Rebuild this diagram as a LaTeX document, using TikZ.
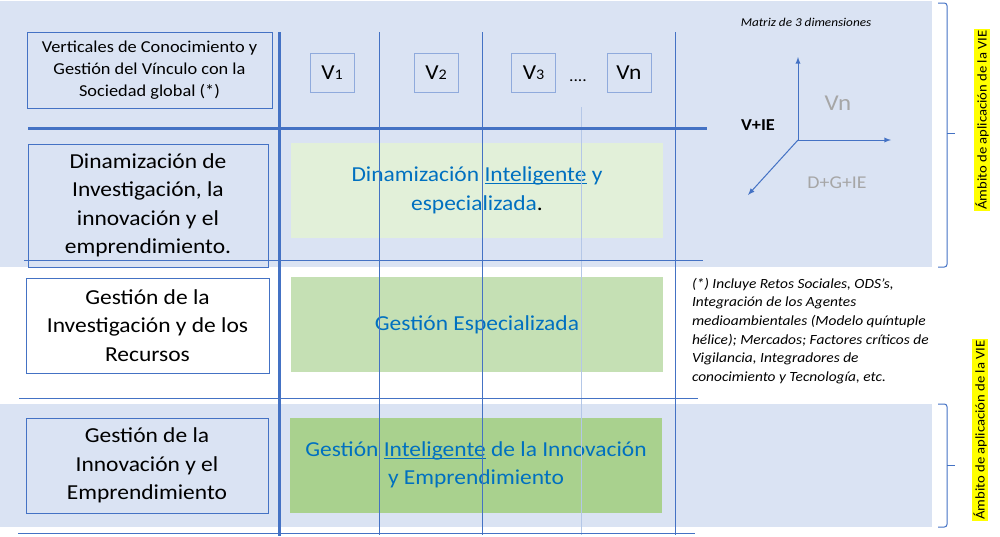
\documentclass[tikz,border=0pt]{standalone}
\usepackage{fontspec}
\setmainfont{Carlito}[FakeStretch=1.1]
\definecolor{band}{HTML}{DAE3F3}
\definecolor{rule}{HTML}{4472C4}
\definecolor{vline}{HTML}{8FAADC}
\definecolor{greenA}{HTML}{E2F0D9}
\definecolor{greenB}{HTML}{C5E0B4}
\definecolor{greenC}{HTML}{A9D18E}
\definecolor{bluetext}{HTML}{0070C0}
\definecolor{greytext}{HTML}{A6A6A6}
\definecolor{hilite}{HTML}{FFFF00}
\usetikzlibrary{arrows}
\tikzstyle{base}=[x=0.75pt, y=-0.75pt, inner sep=0pt, outer sep=0pt]
\tikzstyle{rowbox}=[draw=rule, line width=0.75pt, align=center, font=\fontsize{16}{21.4}\selectfont]
\tikzstyle{greenbox}=[align=center, text=bluetext, minimum width=279pt, minimum height=71.25pt, font=\fontsize{16}{22}\selectfont]
\tikzstyle{vbox}=[draw=vline, line width=0.6pt, minimum width=33pt, minimum height=29.25pt, font=\fontsize{16}{18}\selectfont]
\tikzstyle{thin}=[draw=rule, line width=0.75pt]
\tikzstyle{thick}=[draw=rule, line width=2.25pt]
\tikzstyle{axis}=[draw=rule, line width=0.75pt, -latex]
\tikzstyle{brace}=[draw=rule, line width=0.75pt, rounded corners=2pt]
\tikzstyle{ambito}=[rotate=90, fill=hilite, inner sep=1pt, font=\fontsize{10}{12}\selectfont]
\newcommand*{\dig}[1]{{\fontsize{11}{12}\selectfont #1}}
\newcommand*{\uln}[1]{\setbox0\hbox{#1}\rlap{\rule[-1.6pt]{\wd0}{0.7pt}}\box0\relax}

\begin{document}
\begin{tikzpicture}[base]
    \path [use as bounding box] (0,0) rectangle (1000,536);
    % bandas
    \fill [band] (0,1) rectangle (932,267);
    \fill [band] (0,404) rectangle (932,527);
    % cabeceras de fila
    \node [rowbox, fill=band, minimum width=183.75pt, minimum height=57pt, font=\fontsize{12.5}{16.5}\selectfont] (verts) at (149.5,70)
        {Verticales de Conocimiento y\\Gestión del Vínculo con la\\Sociedad global (*)};
    \node [rowbox, fill=band, minimum width=180pt, minimum height=92.25pt] (dina) at (148,205.5)
        {Dinamización de\\Investigación, la\\innovación y el\\emprendimiento.};
    \node [rowbox, fill=white, minimum width=182.25pt, minimum height=71.25pt] (gesinv) at (147.5,325.5)
        {Gestión de la\\Investigación y de los\\Recursos};
    \node [rowbox, fill=band, minimum width=181.5pt, minimum height=71.25pt] (gesinn) at (147,465.5)
        {Gestión de la\\Innovación y el\\Emprendimiento};
    % verticales
    \node [vbox] (v1) at (332,72.5) {V\dig{1}};
    \node [vbox] (v2) at (436,72.5) {V\dig{2}};
    \node [vbox] (v3) at (533.5,72.5) {V\dig{3}};
    \node [anchor=base, font=\fontsize{12}{14}\selectfont] (dots) at (578,81) {....};
    \node [vbox] (vn) at (629,72.5) {Vn};
    % celdas
    \node [greenbox, fill=greenA] (gdina) at (477,190.5)
        {Dinamización \uln{Inteligente} y\\especializada{\color{black}.}};
    \node [greenbox, fill=greenB] (gesp) at (477,324.5) {Gestión Especializada};
    \node [greenbox, fill=greenC, font=\fontsize{16}{21}\selectfont] (ginn) at (476,465)
        {Gestión \uln{Inteligente} de la Innovación\\y Emprendimiento};
    % rejilla
    \draw [thin] (379,32) -- (379,535);
    \draw [thin] (482,32) -- (482,535);
    \draw [thin, draw=rule!40] (581,107) -- (581,535);
    \draw [thin] (675,32) -- (675,535);
    \draw [thin] (24,260) -- (703,260);
    \draw [thin] (19,398) -- (698,398);
    \draw [thin] (18,533) -- (695,533);
    \draw [thick] (28,128) -- (707,128);
    \draw [thick] (279,32) -- (279,536);
    % matriz
    \node [font=\itshape\fontsize{9}{10}\selectfont] (matriz) at (806,22) {Matriz de 3 dimensiones};
    \coordinate (orig) at (798,140);
    \coordinate (axv) at (798,57);
    \coordinate (axh) at (891,140);
    \coordinate (axd) at (748,195);
    \draw [axis] (orig) -- (axv);
    \draw [axis] (orig) -- (axh);
    \draw [axis] (orig) -- (axd);
    \node [text=greytext, font=\fontsize{17}{18}\selectfont] (lvn) at (838,103) {Vn};
    \node [font=\bfseries\fontsize{12.5}{14}\selectfont] (lvie) at (758,125) {V+IE};
    \node [text=greytext, font=\fontsize{13.5}{16}\selectfont] (ldg) at (837,183) {D+G+IE};
    % nota
    \node [anchor=north west, align=left, font=\itshape\fontsize{10.5}{14}\selectfont] (nota) at (692,278)
        {(*) Incluye Retos Sociales, ODS’s,\\Integración de los Agentes\\medioambientales (Modelo quíntuple\\hélice); Mercados; Factores críticos de\\Vigilancia, Integradores de\\conocimiento y Tecnología, etc.};
    % llaves
    \draw [brace] (938,3) -- (947,3) -- (947,267) -- (938,267);
    \draw [thin] (947,133) -- (955,133);
    \draw [brace] (938,404) -- (947,404) -- (947,527) -- (938,527);
    \draw [thin] (947,465) -- (955,465);
    \node [ambito] (amb1) at (982,120) {Ámbito de aplicación de la VIE};
    \node [ambito] (amb2) at (980,430) {Ámbito de aplicación de la VIE};
\end{tikzpicture}
\end{document}
